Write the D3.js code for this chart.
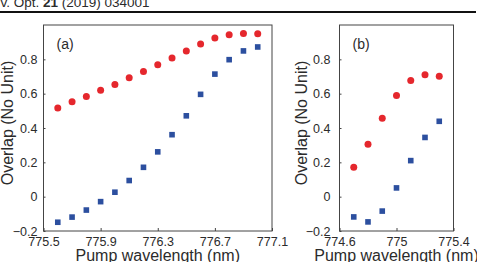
<!DOCTYPE html>
<html>
<head>
<meta charset="utf-8">
<script src="https://cdn.jsdelivr.net/npm/d3@7"></script>
<style>
  body { margin: 0; background: #fff; }
  svg { display: block; font-family: "Liberation Sans", Arial, sans-serif; }
  text { fill: #2b2b2b; }
</style>
</head>
<body>
<svg id="chart" width="477" height="262"></svg>
<script>
// panel (a)
const wavelengthA = [775.6, 775.7, 775.8, 775.9, 776.0, 776.1, 776.2, 776.3, 776.4, 776.5, 776.6, 776.7, 776.8, 776.9, 777.0];
const redA = [0.516, 0.553, 0.584, 0.620, 0.653, 0.692, 0.729, 0.769, 0.808, 0.849, 0.890, 0.924, 0.943, 0.951, 0.949];
const blueA = [-0.149, -0.119, -0.078, -0.029, 0.026, 0.094, 0.171, 0.261, 0.361, 0.471, 0.596, 0.714, 0.798, 0.849, 0.872];
const xTicksA = [775.5, 775.9, 776.3, 776.7, 777.1];

// panel (b)
const wavelengthB = [774.7, 774.8, 774.9, 775.0, 775.1, 775.2, 775.3];
const redB = [0.171, 0.306, 0.457, 0.590, 0.676, 0.710, 0.702];
const blueB = [-0.118, -0.147, -0.084, 0.051, 0.210, 0.345, 0.439];
const xTicksB = [774.6, 775.0, 775.4];

const yTicks = [-0.2, 0, 0.2, 0.4, 0.6, 0.8];

const svg = d3.select("#chart");

// journal header (cut at the top edge, as in the source scan)
const header = svg.append("text")
    .attr("x", 0.5).attr("y", 7)
    .attr("font-size", 13.5);
header.append("tspan").text("v. Opt. ");
header.append("tspan").attr("font-weight", "bold").text("21");
header.append("tspan").text(" (2019) 034001");

svg.append("line")
    .attr("x1", 0).attr("x2", 476)
    .attr("y1", 12).attr("y2", 12)
    .attr("stroke", "#111").attr("stroke-width", 1.8);

function drawPanel(opts) {
    const x = d3.scaleLinear().domain(opts.xDomain).range([opts.left, opts.right]);
    const y = d3.scaleLinear().domain([-0.2, 1.0]).range([231, 25]);
    const g = svg.append("g");

    // frame
    g.append("rect")
        .attr("x", opts.left).attr("y", 25)
        .attr("width", opts.right - opts.left).attr("height", 206)
        .attr("fill", "none").attr("stroke", "#444").attr("stroke-width", 1);

    // axes with inner ticks
    const xAxis = g.append("g")
        .attr("transform", `translate(0, 231)`)
        .call(d3.axisBottom(x).tickValues(opts.xTicks).tickSize(-3).tickPadding(6)
            .tickFormat(d => d3.format("")(+d.toFixed(1))));
    const yAxis = g.append("g")
        .attr("transform", `translate(${opts.left}, 0)`)
        .call(d3.axisLeft(y).tickValues(yTicks).tickSize(-2).tickPadding(opts.yPad)
            .tickFormat(d => d3.format("")(+d.toFixed(1))));
    [xAxis, yAxis].forEach(a => {
        a.select(".domain").remove();
        a.selectAll("line").attr("stroke", "#444");
        a.selectAll("text").attr("font-size", 12.5).attr("fill", "#2b2b2b")
            .attr("font-family", "Liberation Sans, Arial, sans-serif");
    });

    // series
    g.selectAll("rect.blue")
        .data(opts.xs.map((d, i) => [d, opts.blue[i]]))
        .join("rect")
        .attr("class", "blue")
        .attr("x", d => x(d[0]) - 2.8)
        .attr("y", d => y(d[1]) - 2.8)
        .attr("width", 5.6).attr("height", 5.6)
        .attr("fill", "#2c4f9f");

    g.selectAll("circle.red")
        .data(opts.xs.map((d, i) => [d, opts.red[i]]))
        .join("circle")
        .attr("class", "red")
        .attr("cx", d => x(d[0]))
        .attr("cy", d => y(d[1]))
        .attr("r", 3.5)
        .attr("fill", "#e5272d");

    // labels
    g.append("text")
        .attr("x", opts.left + 13).attr("y", 49)
        .attr("font-size", 14)
        .text(opts.tag);

    g.append("text")
        .attr("x", (opts.left + opts.right) / 2).attr("y", 261)
        .attr("text-anchor", "middle").attr("font-size", 16)
        .text("Pump wavelength (nm)");

    g.append("text")
        .attr("transform", `translate(${opts.ylabelX}, 123) rotate(-90)`)
        .attr("text-anchor", "middle").attr("font-size", 16)
        .text("Overlap (No Unit)");
}

drawPanel({
    left: 43.5, right: 272, xDomain: [775.5, 777.1], xTicks: xTicksA,
    xs: wavelengthA, red: redA, blue: blueA, tag: "(a)", yPad: 6, ylabelX: 13
});

drawPanel({
    left: 339.5, right: 453.5, xDomain: [774.6, 775.4], xTicks: xTicksB,
    xs: wavelengthB, red: redB, blue: blueB, tag: "(b)", yPad: 9, ylabelX: 307
});
</script>
</body>
</html>
